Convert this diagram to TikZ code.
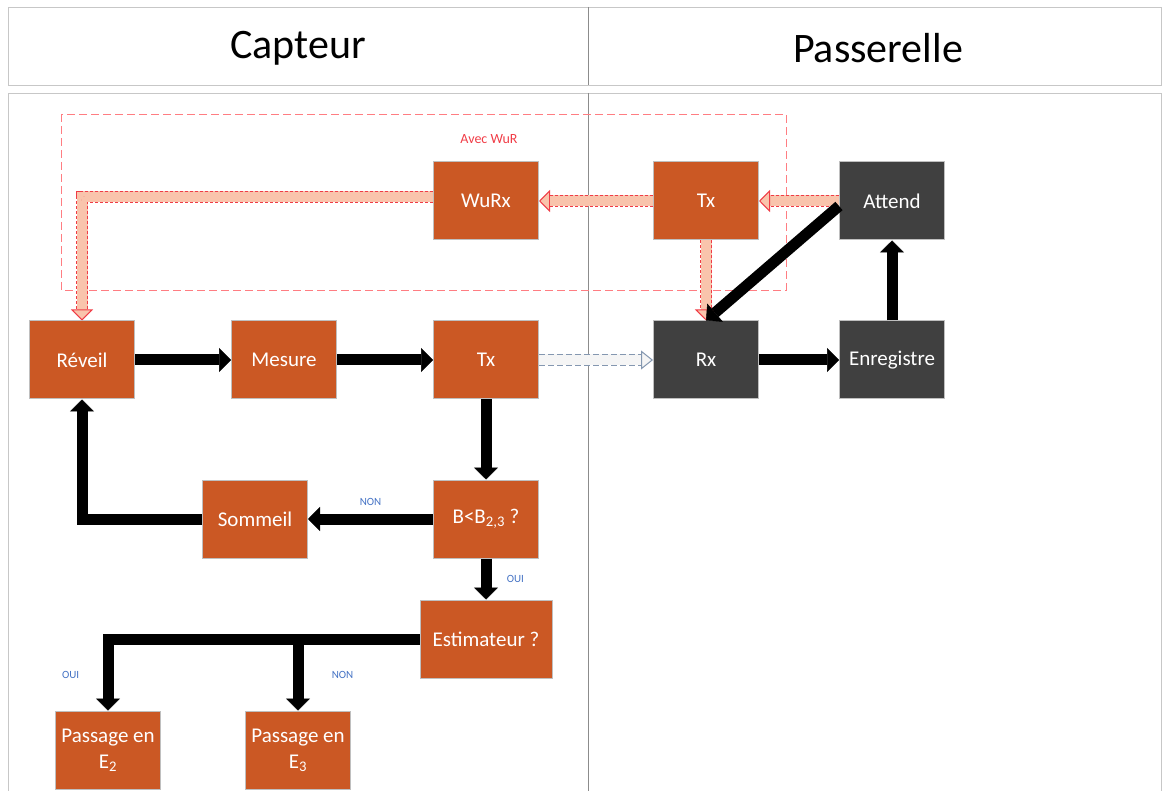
\documentclass[tikz,border=0pt]{standalone}
\usepackage{fontspec}
\setmainfont{Carlito}
\usetikzlibrary{arrows.meta,positioning}

\definecolor{orangecapteur}{RGB}{203,88,36}
\definecolor{grispasserelle}{RGB}{64,64,64}
\definecolor{peche}{RGB}{249,196,172}
\definecolor{rougewur}{RGB}{240,60,70}
\definecolor{cadrewur}{RGB}{255,125,130}
\definecolor{bleulabel}{RGB}{68,114,196}
\definecolor{grisradio}{RGB}{132,151,176}

\begin{document}
\begin{tikzpicture}[x=1pt,y=-1pt,node distance=96pt]
  \tikzstyle{bloc}=[rectangle,draw=black!25,line width=1pt,text=white,
                    minimum width=105pt,minimum height=78pt,inner sep=2pt,
                    align=center,font=\fontsize{21}{26}\selectfont]
  \tikzstyle{capteur bloc}=[bloc,fill=orangecapteur]
  \tikzstyle{passerelle bloc}=[bloc,fill=grispasserelle]
  \tikzstyle{titre}=[font=\fontsize{42}{50}\selectfont]
  \tikzstyle{etiquette}=[font=\fontsize{11}{13}\selectfont,text=bleulabel]
  \tikzstyle{flux}=[draw=black,line width=11pt,
                    -{Triangle[width=24pt,length=12pt,line width=.5pt]}]
  \tikzstyle{reveil flux}=[draw=peche,line width=11pt,
      -{Triangle[width=22pt,length=11pt,fill=peche,color=rougewur,line width=1pt]},
      postaction={draw=rougewur,-,dash pattern=on 3pt off 2pt,line width=1pt,
                  double=peche,double distance=10.5pt,shorten >=11pt}]
  \tikzstyle{radio flux}=[draw=gray!8,line width=11pt,
      -{Triangle[width=19pt,length=12pt,fill=gray!8,color=grisradio,line width=1pt]},
      postaction={draw=grisradio,-,dash pattern=on 6pt off 3pt,line width=1pt,
                  double=gray!8,double distance=10.5pt,shorten >=12pt}]

  \useasboundingbox (0,0) rectangle (1162,791);

  % cadre
  \draw[black!22] (8,7) rectangle (1161,85);
  \draw[black!22] (8,93) rectangle (1161,800);
  \draw[black!45] (588,7) -- (588,85) (588,93) -- (588,791);
  \node[titre] (capteur) at (298,48) {Capteur};
  \node[titre] (passerelle) at (878,48) {Passerelle};

  % zone WuR
  \draw[cadrewur,line width=.9pt,dash pattern=on 8pt off 4pt] (61,114) rectangle (786,290);
  \node[text=rougewur,font=\fontsize{14}{16}\selectfont] (avec) at (489,139) {Avec WuR};

  % capteur
  \node[capteur bloc] (reveil) at (82,360) {Réveil};
  \node[capteur bloc] (mesure) [right=of reveil] {Mesure};
  \node[capteur bloc] (txc) [right=of mesure] {Tx};
  \node[capteur bloc] (wurx) [above=80pt of txc] {WuRx};
  \node[capteur bloc] (test) [below=80pt of txc] {B<B\textsubscript{2,3} ?};
  \node[capteur bloc] (sommeil) [left=125pt of test] {Sommeil};
  \node[capteur bloc,minimum width=132pt] (estim) [below=41pt of test] {Estimateur ?};
  \node[capteur bloc] (passA) at (108,750) {Passage en\\E\textsubscript{2}};
  \node[capteur bloc] (passB) at (298,750) {Passage en\\E\textsubscript{3}};

  % passerelle
  \node[capteur bloc] (txp) at (706,201) {Tx};
  \node[passerelle bloc] (attend) [right=80pt of txp] {Attend};
  \node[passerelle bloc] (rx) at (706,360) {Rx};
  \node[passerelle bloc] (enreg) [right=80pt of rx] {Enregistre};

  % reveil par WuR
  \draw[reveil flux] (attend) -- (txp);
  \draw[reveil flux] (txp) -- (wurx);
  \draw[reveil flux] (txp) -- (rx);
  \draw[reveil flux] ([yshift=4pt]wurx.west) -| (reveil);

  \draw[radio flux] (txc) -- (rx);

  \draw[flux] (reveil) -- (mesure);
  \draw[flux] (mesure) -- (txc);
  \draw[flux] (txc) -- (test);
  \draw[flux] (test) -- node[etiquette,above=5pt] {NON} (sommeil);
  \draw[flux] (sommeil) -| (reveil);
  \draw[flux] (test) -- node[etiquette,right=12pt] {OUI} (estim);
  \draw[flux] (estim) -| node[etiquette,pos=.75,left=20pt] {OUI} (passA);
  \draw[flux] (estim.west -| passB.north) -- node[etiquette,right=25pt] {NON} (passB);
  \draw[flux] (rx) -- (enreg);
  \draw[flux] (enreg) -- (attend);
  \draw[flux] ([yshift=-5pt]attend.west) -- (rx.north);
\end{tikzpicture}
\end{document}
